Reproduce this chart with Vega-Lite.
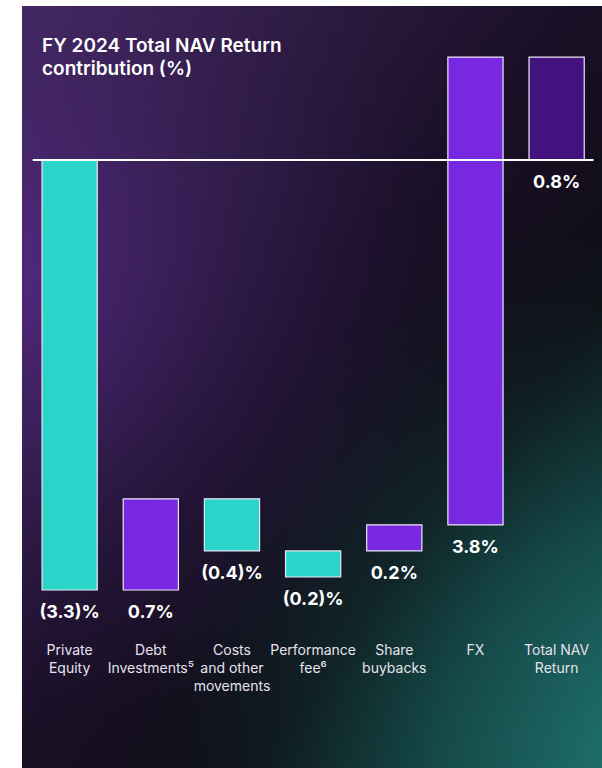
{
  "$schema": "https://vega.github.io/schema/vega-lite/v6.json",
  "width": 602,
  "height": 768,
  "autosize": {"type": "fit", "contains": "padding"},
  "padding": {"left": 22, "top": 6, "right": 0, "bottom": 0},
  "background": "#ffffff",
  "view": {
    "stroke": null,
    "fill": {
      "gradient": "linear", "x1": 0, "y1": 0, "x2": 1, "y2": 1,
      "stops": [
        {"offset": 0, "color": "#43295f"},
        {"offset": 0.45, "color": "#1b1029"},
        {"offset": 0.7, "color": "#0e0d14"},
        {"offset": 1, "color": "#13403f"}
      ]
    }
  },
  "datasets": {
    "bars": [
      {"cat": "Private Equity", "label": "Private\nEquity", "lo": -3.3, "hi": 0, "kind": "negative", "value": "(3.3)%"},
      {"cat": "Debt Investments", "label": "Debt\nInvestments⁵", "lo": -3.3, "hi": -2.6, "kind": "positive", "value": "0.7%"},
      {"cat": "Costs and other movements", "label": "Costs\nand other\nmovements", "lo": -3.0, "hi": -2.6, "kind": "negative", "value": "(0.4)%"},
      {"cat": "Performance fee", "label": "Performance\nfee⁶", "lo": -3.2, "hi": -3.0, "kind": "negative", "value": "(0.2)%"},
      {"cat": "Share buybacks", "label": "Share\nbuybacks", "lo": -3.0, "hi": -2.8, "kind": "positive", "value": "0.2%"},
      {"cat": "FX", "label": "FX", "lo": -2.8, "hi": 0.79, "kind": "positive", "value": "3.8%"},
      {"cat": "Total NAV Return", "label": "Total NAV\nReturn", "lo": 0, "hi": 0.79, "kind": "total", "value": "0.8%"}
    ],
    "title": [{"text": "FY 2024 Total NAV Return\ncontribution (%)"}]
  },
  "data": {"name": "bars"},
  "encoding": {
    "x": {
      "field": "cat", "type": "nominal", "sort": null,
      "scale": {"paddingInner": 0.32, "paddingOuter": 0.233, "align": 0.53},
      "axis": null
    }
  },
  "layer": [
    {
      "mark": {
        "type": "rect",
        "fill": {
          "gradient": "radial", "x1": 1.0, "y1": 1.0, "r1": 0, "x2": 1.0, "y2": 1.0, "r2": 0.75,
          "stops": [
            {"offset": 0, "color": "rgba(36,130,124,0.95)"},
            {"offset": 0.45, "color": "rgba(24,96,92,0.6)"},
            {"offset": 1, "color": "rgba(10,30,30,0)"}
          ]
        }
      },
      "data": {"values": [{}]},
      "encoding": {"x": null}
    },
    {
      "mark": {
        "type": "rect",
        "fill": {
          "gradient": "radial", "x1": 0.08, "y1": 0.35, "r1": 0, "x2": 0.08, "y2": 0.35, "r2": 0.6,
          "stops": [
            {"offset": 0, "color": "rgba(92,44,144,0.8)"},
            {"offset": 0.5, "color": "rgba(70,36,112,0.35)"},
            {"offset": 1, "color": "rgba(50,25,80,0)"}
          ]
        }
      },
      "data": {"values": [{}]},
      "encoding": {"x": null}
    },
    {
      "mark": {"type": "bar", "stroke": "#ece6f6", "strokeWidth": 1.2},
      "encoding": {
        "y": {"field": "lo", "type": "quantitative", "scale": {"domain": [-4.666, 1.182], "nice": false, "zero": false}, "axis": null},
        "y2": {"field": "hi"},
        "color": {
          "field": "kind", "type": "nominal", "legend": null,
          "scale": {"domain": ["negative", "positive", "total"], "range": ["#2bd4c9", "#7828e0", "#42137f"]}
        }
      }
    },
    {
      "mark": {"type": "rule", "color": "#ffffff", "strokeWidth": 2},
      "data": {"values": [{}]},
      "encoding": {
        "x": {"datum": "Private Equity", "bandPosition": -0.17},
        "x2": {"datum": "Total NAV Return", "bandPosition": 1.17},
        "y": {"datum": 0, "type": "quantitative"}
      }
    },
    {
      "mark": {"type": "text", "color": "#ffffff", "font": "Inter", "fontSize": 18, "fontWeight": 700, "baseline": "middle", "dy": 23},
      "encoding": {
        "y": {"field": "lo", "type": "quantitative"},
        "text": {"field": "value"}
      }
    },
    {
      "mark": {"type": "text", "color": "#e6e2ec", "font": "Inter", "fontSize": 14, "lineBreak": "\n", "lineHeight": 18, "baseline": "alphabetic"},
      "encoding": {
        "y": {"datum": -3.8, "type": "quantitative"},
        "text": {"field": "label"}
      }
    },
    {
      "data": {"name": "title"},
      "mark": {"type": "text", "color": "#ffffff", "font": "Inter", "fontSize": 19, "fontWeight": 600, "lineBreak": "\n", "lineHeight": 23, "align": "left", "baseline": "alphabetic"},
      "encoding": {
        "x": {"datum": "Private Equity", "bandPosition": 0},
        "y": {"datum": 0.83, "type": "quantitative"},
        "text": {"field": "text"}
      }
    }
  ]
}
